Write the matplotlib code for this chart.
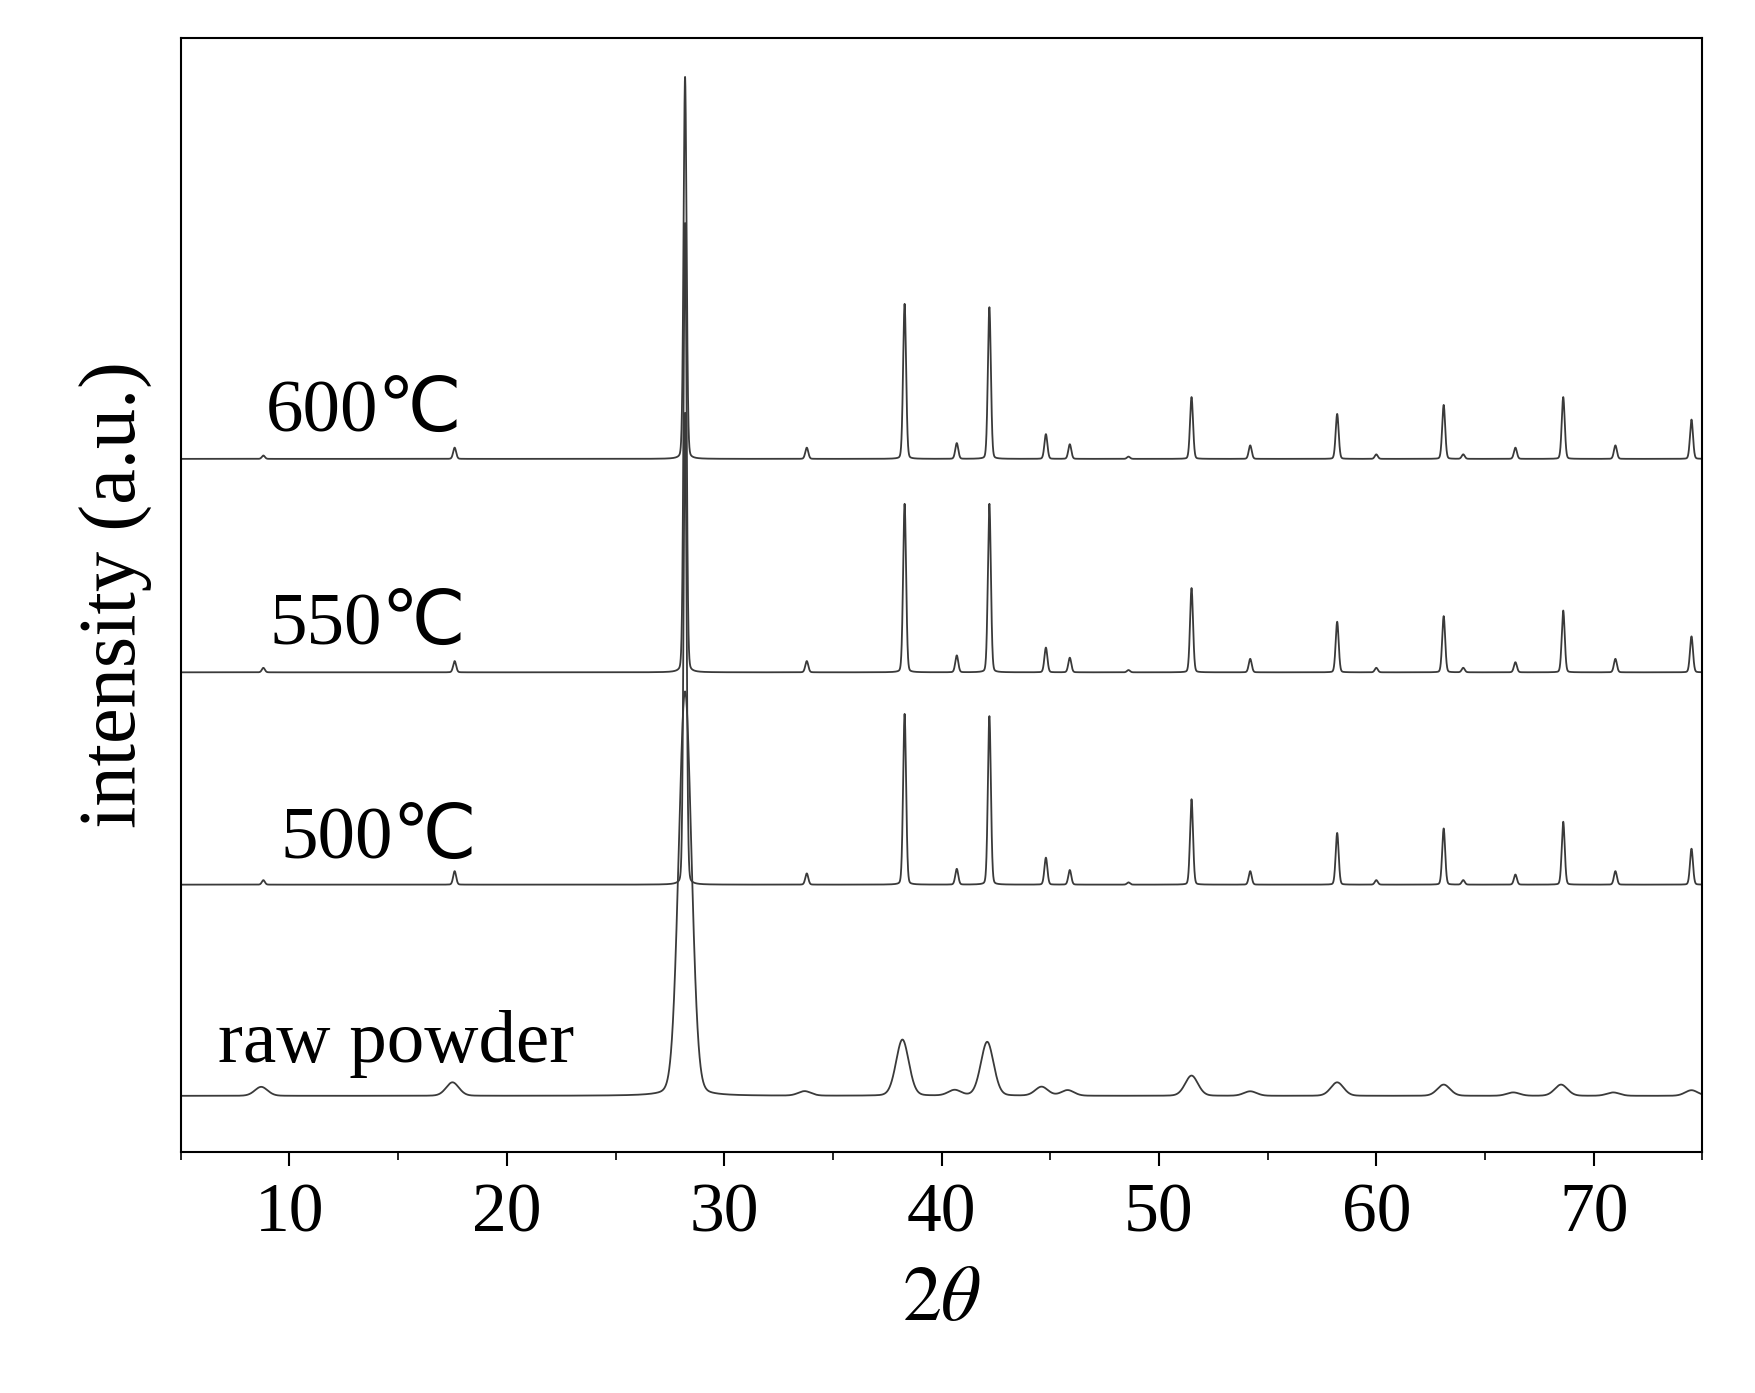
import numpy as np
import matplotlib
matplotlib.use("Agg")
import matplotlib.pyplot as plt
from matplotlib.ticker import MultipleLocator

labels = ["raw powder", "500℃", "550℃", "600℃"]
offsets = [50, 238, 427, 617]
label_x = [6.7, 9.6, 9.1, 8.9]
label_y = [80, 262, 452, 642]

cryst_pos = [8.8, 17.6, 28.2, 33.8, 38.3, 40.7, 42.2, 44.8, 45.9, 48.6, 51.5, 54.2, 58.2, 60.0, 63.1, 64.0, 66.4, 68.6, 71.0, 74.5]
h600 = [3, 10, 340, 10, 138, 14, 135, 22, 13, 2, 55, 12, 40, 4, 48, 4, 10, 55, 12, 35]
h550 = [4, 10, 400, 10, 150, 15, 150, 22, 13, 2, 75, 12, 45, 4, 50, 4, 9, 55, 12, 32]
h500 = [4, 12, 420, 10, 152, 14, 150, 24, 13, 2, 76, 12, 46, 4, 50, 4, 9, 56, 12, 32]
cryst_w = 0.07

raw_pos = [8.7, 17.5, 28.2, 33.7, 38.2, 40.6, 42.1, 44.6, 45.8, 51.5, 54.2, 58.2, 63.1, 66.3, 68.5, 70.9, 74.5]
raw_h = [8, 12, 360, 4, 50, 5, 48, 8, 5, 18, 4, 12, 10, 3, 10, 3, 5]
raw_w = 0.3

x = np.linspace(5, 75, 14001)

def pattern(pos, h, w):
    y = np.zeros_like(x)
    for p, a in zip(pos, h):
        g = np.exp(-0.5 * ((x - p) / w) ** 2)
        l = 1 / (1 + ((x - p) / w) ** 2)
        y += a * (0.85 * g + 0.15 * l)
    return y

plt.rcParams['font.family'] = ['Liberation Serif', 'DejaVu Serif']
plt.rcParams['mathtext.fontset'] = 'stix'
fig = plt.figure(figsize=(17.55, 13.93), dpi=100)
ax = fig.add_axes([0.103, 0.173, 0.867, 0.8])

series = [pattern(raw_pos, raw_h, raw_w), pattern(cryst_pos, h500, cryst_w),
          pattern(cryst_pos, h550, cryst_w), pattern(cryst_pos, h600, cryst_w)]
for s, off in zip(series, offsets):
    ax.plot(x, s + off, color='#3a3a3a', lw=1.3)
for lab, lx, ly in zip(labels, label_x, label_y):
    ax.text(lx, ly, lab, fontsize=54, color='black',
            family=['Liberation Serif', 'DejaVu Sans'])

ax.set_xlim(5, 75)
ax.set_ylim(0, 992)
ax.set_yticks([])
ax.xaxis.set_major_locator(MultipleLocator(10))
ax.xaxis.set_minor_locator(MultipleLocator(5))
ax.tick_params(axis='x', which='major', length=10, width=1.5, labelsize=50, pad=12)
ax.tick_params(axis='x', which='minor', length=6, width=1.2)
for sp in ax.spines.values():
    sp.set_linewidth(1.5)
ax.set_xlabel(r'$2\theta$', fontsize=56, labelpad=14)
ax.set_ylabel('intensity (a.u.)', fontsize=58, labelpad=20)
fig.savefig('out.png', dpi=100)
